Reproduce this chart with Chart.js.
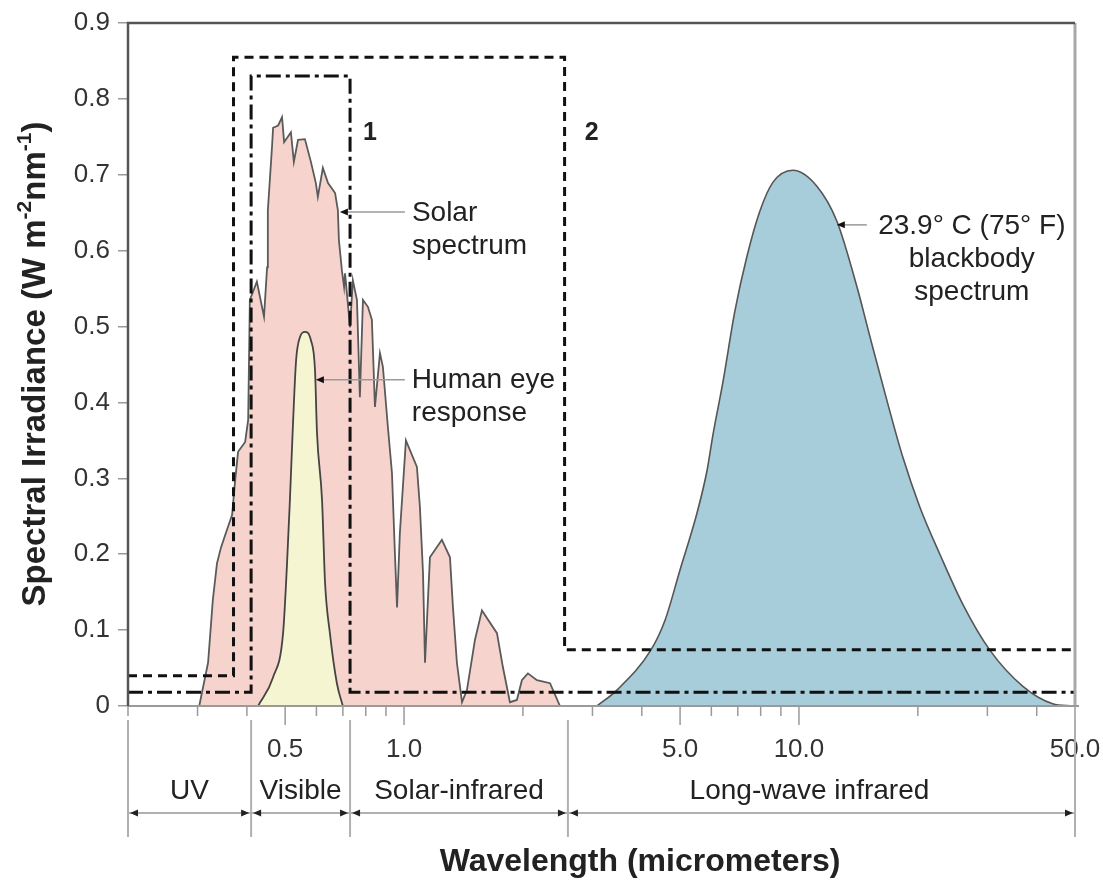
<!DOCTYPE html>
<html>
<head>
<meta charset="utf-8">
<script src="https://cdn.jsdelivr.net/npm/chart.js@4.4.1/dist/chart.umd.min.js"></script>
<style>
  html, body { margin: 0; padding: 0; background: #fff; }
  #wrap { width: 1103px; height: 889px; }
</style>
</head>
<body>
<div id="wrap"><canvas id="spectrum" width="1103" height="889"></canvas></div>
<script>
// 太陽スペクトル (波長 µm, 放射照度)
const solarWl  = [0.303, 0.319, 0.328, 0.336, 0.344, 0.356, 0.367, 0.373, 0.380, 0.396, 0.403, 0.407, 0.424, 0.442, 0.450, 0.452, 0.463, 0.466, 0.480, 0.491, 0.497, 0.517, 0.526, 0.539, 0.561, 0.581, 0.598, 0.605, 0.623, 0.642, 0.669, 0.680, 0.684, 0.696, 0.705, 0.709, 0.730, 0.742, 0.760, 0.773, 0.787, 0.810, 0.829, 0.844, 0.869, 0.884, 0.910, 0.932, 0.948, 0.960, 0.976, 1.011, 1.078, 1.097, 1.117, 1.130, 1.163, 1.247, 1.307, 1.330, 1.361, 1.402, 1.443, 1.512, 1.575, 1.719, 1.780, 1.854, 1.931, 1.988, 2.059, 2.170, 2.342, 2.482];
const solarVal = [0.000, 0.057, 0.140, 0.188, 0.209, 0.232, 0.252, 0.294, 0.335, 0.348, 0.377, 0.535, 0.559, 0.513, 0.578, 0.653, 0.736, 0.762, 0.765, 0.776, 0.743, 0.756, 0.717, 0.746, 0.747, 0.717, 0.689, 0.671, 0.709, 0.689, 0.676, 0.653, 0.614, 0.574, 0.552, 0.570, 0.499, 0.561, 0.535, 0.407, 0.535, 0.526, 0.509, 0.394, 0.465, 0.447, 0.368, 0.307, 0.202, 0.130, 0.228, 0.350, 0.315, 0.262, 0.175, 0.057, 0.196, 0.219, 0.196, 0.130, 0.057, 0.005, 0.021, 0.087, 0.126, 0.096, 0.051, 0.005, 0.008, 0.034, 0.043, 0.034, 0.030, 0.000];

// 人間の目の感度
const eyeWl  = [0.427, 0.466, 0.494, 0.505, 0.514, 0.523, 0.533, 0.545, 0.561, 0.581, 0.595, 0.602, 0.620, 0.631, 0.649, 0.676, 0.700];
const eyeVal = [0.000, 0.038, 0.096, 0.183, 0.271, 0.368, 0.456, 0.486, 0.493, 0.482, 0.443, 0.360, 0.271, 0.162, 0.096, 0.030, 0.000];

// 23.9°C 黒体スペクトル
const bbWl  = [3.08, 3.46, 4.22, 4.58, 4.99, 5.51, 5.85, 6.05, 6.42, 6.88, 7.38, 7.96, 8.59, 9.65, 11.10, 12.47, 14.01, 15.12, 16.69, 18.32, 20.24, 22.74, 26.0, 30.4, 36.9, 43.9, 49.4];
const bbVal = [0.000, 0.021, 0.074, 0.113, 0.178, 0.253, 0.310, 0.356, 0.427, 0.520, 0.592, 0.652, 0.690, 0.706, 0.685, 0.639, 0.553, 0.487, 0.403, 0.328, 0.262, 0.200, 0.134, 0.074, 0.026, 0.003, 0.000];

// 枠 1 (一点鎖線) と 枠 2 (破線)
const box1Wl  = [0.2, 0.41, 0.41, 0.73, 0.73, 50];
const box1Val = [0.018, 0.018, 0.83, 0.83, 0.018, 0.018];
const box2Wl  = [0.2, 0.37, 0.37, 2.55, 2.55, 50];
const box2Val = [0.04, 0.04, 0.855, 0.855, 0.074, 0.074];

// 軸の目盛り
const xTickValues = [0.2, 0.3, 0.4, 0.5, 0.6, 0.7, 0.8, 0.9, 1, 2, 3, 4, 5, 6, 7, 8, 9, 10, 20, 30, 40, 50];
const xTickText   = ['', '', '', '0.5', '', '', '', '', '1.0', '', '', '', '5.0', '', '', '', '', '10.0', '', '', '', '50.0'];
const yTickValues = [0, 0.1, 0.2, 0.3, 0.4, 0.5, 0.6, 0.7, 0.8, 0.9];
const yTickText   = ['0', '0.1', '0.2', '0.3', '0.4', '0.5', '0.6', '0.7', '0.8', '0.9'];

// 波長帯
const bandEdges = [0.2, 0.41, 0.73, 2.6, 50];
const bandNames = ['UV', 'Visible', 'Solar-infrared', 'Long-wave infrared'];

const FONT = '"Liberation Sans", Arial, Helvetica, sans-serif';
const toPts = (xs, ys) => xs.map((x, i) => ({ x: x, y: ys[i] }));

// 小さな矢じり (dir = -1 で左向き)
function arrowHead(ctx, x, y, dir) {
    ctx.beginPath();
    ctx.moveTo(x, y);
    ctx.lineTo(x - dir * 8, y - 3.5);
    ctx.lineTo(x - dir * 8, y + 3.5);
    ctx.closePath();
    ctx.fill();
}

// 注釈・枠線・波長帯などを描くプラグイン
const decorations = {
    id: 'decorations',
    afterDraw(chart) {
        const { ctx, chartArea: a, scales: { x, y } } = chart;
        ctx.save();

        // 枠
        ctx.lineCap = 'butt';
        ctx.strokeStyle = '#a8a8a8';
        ctx.lineWidth = 3;
        ctx.beginPath(); ctx.moveTo(a.right, a.top); ctx.lineTo(a.right, a.bottom); ctx.stroke();
        ctx.strokeStyle = '#9a9a9a';
        ctx.lineWidth = 2;
        ctx.beginPath(); ctx.moveTo(a.left, a.bottom); ctx.lineTo(a.right + 4, a.bottom); ctx.stroke();
        ctx.strokeStyle = '#555';
        ctx.lineWidth = 2.5;
        ctx.beginPath(); ctx.moveTo(a.left, a.bottom); ctx.lineTo(a.left, a.top); ctx.lineTo(a.right, a.top); ctx.stroke();

        // x 軸の目盛り線
        ctx.strokeStyle = '#9a9a9a';
        ctx.lineWidth = 1.5;
        xTickValues.forEach((v, i) => {
            const px = x.getPixelForValue(v);
            const len = xTickText[i] ? 19 : 10;
            ctx.beginPath(); ctx.moveTo(px, a.bottom); ctx.lineTo(px, a.bottom + len); ctx.stroke();
        });

        // 波長帯の区切りと矢印
        const bandTop = a.bottom + 14, bandBottom = a.bottom + 131, arrowY = a.bottom + 107;
        ctx.strokeStyle = '#b0b0b0';
        ctx.lineWidth = 2;
        bandEdges.forEach(v => {
            const px = x.getPixelForValue(v);
            ctx.beginPath(); ctx.moveTo(px, bandTop); ctx.lineTo(px, bandBottom); ctx.stroke();
        });
        ctx.beginPath(); ctx.moveTo(a.left, arrowY); ctx.lineTo(a.right, arrowY); ctx.stroke();
        ctx.fillStyle = '#222';
        ctx.font = '28px ' + FONT;
        ctx.textAlign = 'center';
        ctx.textBaseline = 'middle';
        bandNames.forEach((name, i) => {
            const l = x.getPixelForValue(bandEdges[i]);
            const r = x.getPixelForValue(bandEdges[i + 1]);
            arrowHead(ctx, l + 2, arrowY, -1);
            arrowHead(ctx, r - 2, arrowY, 1);
            ctx.fillText(name, (l + r) / 2 - (i === 3 ? 12 : 0), a.bottom + 85);
        });

        // 軸タイトル
        ctx.font = 'bold 32px ' + FONT;
        ctx.fillText('Wavelength (micrometers)', 640, 862);

        ctx.save();
        ctx.translate(36, 364);
        ctx.rotate(-Math.PI / 2);
        const parts = [['Spectral Irradiance (W m', false], ['-2', true], ['nm', false], ['-1', true], [')', false]];
        const big = 'bold 33px ' + FONT, small = 'bold 21px ' + FONT;
        let total = 0;
        parts.forEach(p => { ctx.font = p[1] ? small : big; total += ctx.measureText(p[0]).width; });
        let cx = -total / 2;
        ctx.textAlign = 'left';
        parts.forEach(p => {
            ctx.font = p[1] ? small : big;
            ctx.fillText(p[0], cx, p[1] ? -11 : 0);
            cx += ctx.measureText(p[0]).width;
        });
        ctx.restore();

        // 枠番号
        ctx.font = 'bold 25px ' + FONT;
        ctx.textAlign = 'center';
        ctx.fillStyle = '#222';
        ctx.fillText('1', x.getPixelForValue(box1Wl[3]) + 20, y.getPixelForValue(0.755));
        ctx.fillText('2', x.getPixelForValue(box2Wl[3]) + 27, y.getPixelForValue(0.755));

        // 引き出し線つき注釈
        const notes = [
            { tip: [0.688, 0.651], len: 65, lines: ['Solar', 'spectrum'], tx: 7, align: 'left' },
            { tip: [0.598, 0.430], len: 89, lines: ['Human eye', 'response'], tx: 7, align: 'left' },
            { tip: [12.47, 0.634], len: 30, lines: ['23.9° C (75° F)', 'blackbody', 'spectrum'], tx: 105, align: 'center' }
        ];
        ctx.font = '28px ' + FONT;
        notes.forEach(n => {
            const px = x.getPixelForValue(n.tip[0]);
            const py = y.getPixelForValue(n.tip[1]);
            ctx.strokeStyle = '#9a9a9a';
            ctx.lineWidth = 1.5;
            ctx.beginPath(); ctx.moveTo(px + 4, py); ctx.lineTo(px + n.len, py); ctx.stroke();
            ctx.fillStyle = '#111';
            arrowHead(ctx, px, py, -1);
            ctx.fillStyle = '#222';
            ctx.textAlign = n.align;
            n.lines.forEach((t, k) => {
                ctx.fillText(t, px + n.len + n.tx, py + 1 + k * 33);
            });
        });

        ctx.restore();
    }
};

const ctx = document.getElementById('spectrum').getContext('2d');
new Chart(ctx, {
    type: 'line',
    data: {
        datasets: [
            { data: toPts(box1Wl, box1Val), borderColor: '#111', borderWidth: 3, borderDash: [15, 5, 4, 5], fill: false, pointRadius: 0, tension: 0 },
            { data: toPts(box2Wl, box2Val), borderColor: '#111', borderWidth: 3, borderDash: [9, 6], fill: false, pointRadius: 0, tension: 0 },
            { data: toPts(eyeWl, eyeVal), borderColor: '#444', borderWidth: 1.8, backgroundColor: '#f6f5d2', fill: 'origin', pointRadius: 0, cubicInterpolationMode: 'monotone' },
            { data: toPts(solarWl, solarVal), borderColor: '#5a5a5a', borderWidth: 1.8, backgroundColor: '#f6d4cd', fill: 'origin', pointRadius: 0, tension: 0 },
            { data: toPts(bbWl, bbVal), borderColor: '#555', borderWidth: 1.6, backgroundColor: '#a7cddb', fill: 'origin', pointRadius: 0, cubicInterpolationMode: 'monotone' }
        ]
    },
    options: {
        responsive: false,
        animation: false,
        devicePixelRatio: 1,
        layout: { padding: { top: 23, right: 28, left: 0, bottom: 0 } },
        plugins: { legend: { display: false }, tooltip: { enabled: false } },
        scales: {
            x: {
                type: 'logarithmic',
                min: 0.2,
                max: 50,
                afterBuildTicks: s => { s.ticks = xTickValues.map(v => ({ value: v })); },
                afterFit: s => { s.height = 183; s.paddingLeft = 0; s.paddingRight = 0; },
                grid: { display: false },
                border: { display: false },
                ticks: {
                    autoSkip: false,
                    maxRotation: 0,
                    minRotation: 0,
                    padding: 20,
                    color: '#333',
                    font: { family: FONT, size: 26 },
                    callback: (v, i) => xTickText[i]
                }
            },
            y: {
                min: 0,
                max: 0.9,
                afterBuildTicks: s => { s.ticks = yTickValues.map(v => ({ value: v })); },
                afterFit: s => { s.width = 128; s.paddingTop = 0; s.paddingBottom = 0; },
                grid: { drawOnChartArea: false, tickLength: 10, color: '#9a9a9a', lineWidth: 1.5 },
                border: { display: false },
                ticks: {
                    padding: 8,
                    color: '#333',
                    font: { family: FONT, size: 26 },
                    callback: (v, i) => yTickText[i]
                }
            }
        }
    },
    plugins: [decorations]
});
</script>
</body>
</html>
